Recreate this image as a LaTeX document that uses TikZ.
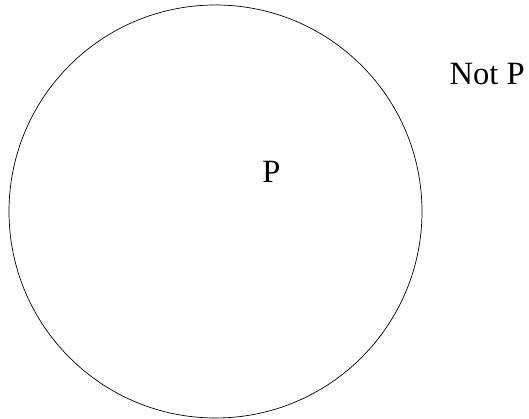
\documentclass[tikz,border=0pt]{standalone}
\usepackage{fontspec}
\setmainfont{Liberation Serif}
\usetikzlibrary{positioning}

\begin{document}
\begin{tikzpicture}[x=1pt, y=1pt,
    settext/.style={inner sep=0pt, font=\fontsize{32.5}{38}\selectfont}]
        \useasboundingbox (0,0) rectangle (529,419);
        \draw[line width=0.7pt] (215.5,207.5) circle[radius=206.5] coordinate (c);
        \node[settext, anchor=base] (p) at (271.5,236) {P};
        \node[settext, anchor=base west] (notp) at (449.5,334) {Not P};
      \end{tikzpicture}
\end{document}
